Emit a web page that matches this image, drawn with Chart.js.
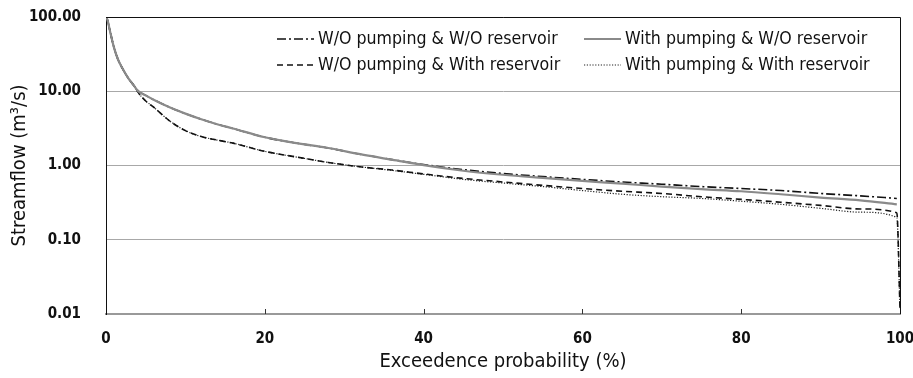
<!DOCTYPE html>
<html><head><meta charset="utf-8">
<script src="https://cdn.jsdelivr.net/npm/chart.js@4/dist/chart.umd.min.js"></script>
<style>html,body{margin:0;padding:0;background:#fff}#wrap{width:913px;height:378px}</style>
</head><body><div id="wrap"><canvas id="c" width="913" height="378"></canvas></div>
<script>
const xTicks = [0, 20, 40, 60, 80, 100];
const yTicks = [0.01, 0.1, 1, 10, 100];
const seriesNames = ["W/O pumping & W/O reservoir", "With pumping & W/O reservoir", "W/O pumping & With reservoir", "With pumping & With reservoir"];
const probUpper = [0, 0.2, 0.5, 1, 1.5, 2, 2.8, 3.5, 4, 5, 6, 8, 10, 12, 14, 16, 20, 24, 28, 32, 36, 40, 45, 50, 55, 60, 65, 70, 75, 80, 85, 90, 95, 99.6];
const woPumpWoRes  = [100, 90, 65, 39, 27, 21, 15, 12, 10.2, 8.8, 7.7, 6.1, 5.0, 4.2, 3.6, 3.15, 2.4, 2.0, 1.72, 1.42, 1.2, 1.03, 0.88, 0.78, 0.71, 0.65, 0.6, 0.56, 0.52, 0.49, 0.46, 0.42, 0.39, 0.36];
const wPumpWoRes   = [100, 90, 65, 39, 27, 21, 15, 12, 10.2, 8.8, 7.7, 6.1, 5.0, 4.2, 3.6, 3.15, 2.4, 2.0, 1.72, 1.42, 1.2, 1.01, 0.85, 0.75, 0.68, 0.62, 0.57, 0.52, 0.48, 0.45, 0.41, 0.37, 0.34, 0.30];
const probLower = [0, 0.2, 0.5, 1, 1.5, 2, 2.8, 3.5, 4, 5, 6, 8, 10, 12, 14, 16, 20, 24, 28, 32, 36, 40, 45, 50, 55, 60, 65, 70, 75, 80, 85, 90, 95, 99.6, 100];
const woPumpWRes   = [100, 90, 65, 39, 27, 21, 15, 12, 9.8, 7.4, 6.1, 4.0, 2.95, 2.45, 2.2, 2.0, 1.55, 1.3, 1.1, 0.96, 0.87, 0.77, 0.67, 0.6, 0.54, 0.49, 0.45, 0.42, 0.38, 0.35, 0.32, 0.29, 0.26, 0.23, 0.012];
const wPumpWRes    = [100, 90, 65, 39, 27, 21, 15, 12, 9.8, 7.4, 6.1, 4.0, 2.95, 2.45, 2.2, 2.0, 1.55, 1.3, 1.1, 0.96, 0.86, 0.76, 0.65, 0.58, 0.52, 0.46, 0.41, 0.38, 0.36, 0.33, 0.30, 0.265, 0.235, 0.20, 0.012];

const FONT = "'DejaVu Sans Condensed', 'Liberation Sans Narrow', 'DejaVu Sans', sans-serif";
const pts = (xs, ys) => xs.map((x, i) => ({x: x, y: ys[i]}));

const styles = [
  {borderColor: '#111', borderWidth: 1.6, borderDash: [9, 3, 2, 3]},
  {borderColor: '#8a8a8a', borderWidth: 2.2, borderDash: []},
  {borderColor: '#111', borderWidth: 1.6, borderDash: [6, 4]},
  {borderColor: '#222', borderWidth: 1.2, borderDash: [1.2, 1.6]}
];
const dataArrs = [pts(probUpper, woPumpWoRes), pts(probUpper, wPumpWoRes), pts(probLower, woPumpWRes), pts(probLower, wPumpWRes)];
const order = [1, 0, 2, 3];

const datasets = seriesNames.map((n, i) => Object.assign({
  label: n, data: dataArrs[i], pointRadius: 0, fill: false, cubicInterpolationMode: 'monotone', order: order[i]
}, styles[i]));

const framePlugin = {
  id: 'frame',
  afterDatasetsDraw(chart) {
    const ctx = chart.ctx, a = chart.chartArea, xs = chart.scales.x;
    ctx.save();
    ctx.strokeStyle = '#111'; ctx.lineWidth = 1;
    ctx.beginPath();
    ctx.moveTo(a.left, a.top + 0.5); ctx.lineTo(a.right + 0.5, a.top + 0.5);
    ctx.lineTo(a.right + 0.5, a.bottom);
    ctx.stroke();
    ctx.strokeStyle = '#333';
    xTicks.forEach(v => {
      if (v === 0 || v === 100) return;
      const px = Math.round(xs.getPixelForValue(v)) + 0.5;
      ctx.beginPath(); ctx.moveTo(px, a.bottom); ctx.lineTo(px, a.bottom - 5); ctx.stroke();
    });
    ctx.restore();
  },
  afterDraw(chart) {
    const ctx = chart.ctx, a = chart.chartArea;
    const cols = [a.left + 171, a.left + 478];
    const rows = [a.top + 22, a.top + 48];
    const layout = [[0, 0], [1, 0], [0, 1], [1, 1]];
    ctx.save();
    ctx.font = '17.6px ' + FONT;
    ctx.fillStyle = '#111';
    ctx.textBaseline = 'middle';
    chart.data.datasets.forEach((ds, i) => {
      const [c, r] = layout[i];
      const x = cols[c], y = rows[r];
      ctx.strokeStyle = ds.borderColor; ctx.lineWidth = ds.borderWidth;
      ctx.setLineDash(ds.borderDash || []);
      ctx.beginPath(); ctx.moveTo(x, y); ctx.lineTo(x + 37, y); ctx.stroke();
      ctx.setLineDash([]);
      ctx.fillText(ds.label, x + 41, y);
    });
    ctx.restore();
  }
};

new Chart(document.getElementById('c'), {
  type: 'line',
  data: {datasets: datasets},
  options: {
    responsive: false, animation: false,
    layout: {padding: {top: 17, right: 13, left: 0, bottom: 0}},
    plugins: {legend: {display: false}, tooltip: {enabled: false}},
    scales: {
      x: {
        type: 'linear', min: 0, max: 100,
        afterBuildTicks: s => { s.ticks = xTicks.map(v => ({value: v})); },
        afterFit: s => { s.height = 64; s.paddingLeft = 0; s.paddingRight = 0; },
        grid: {display: false, drawTicks: false},
        border: {display: true, color: '#999', width: 2},
        ticks: {color: '#111', padding: 16, font: {family: FONT, size: 15, weight: 'bold'}},
        title: {display: true, text: 'Exceedence probability (%)', color: '#111', font: {family: FONT, size: 20}, padding: {top: 2}}
      },
      y: {
        type: 'logarithmic', min: 0.01, max: 100,
        afterBuildTicks: s => { s.ticks = yTicks.map(v => ({value: v})); },
        afterFit: s => { s.width = 106; s.paddingTop = 0; s.paddingBottom = 0; },
        grid: {color: '#a8a8a8', lineWidth: 1, drawTicks: false},
        border: {display: true, color: '#111', width: 1},
        ticks: {color: '#111', padding: 25, font: {family: FONT, size: 15, weight: 'bold'}, callback: v => Number(v).toFixed(2)},
        title: {display: true, text: 'Streamflow (m\u00B3/s)', color: '#111', font: {family: FONT, size: 20}, padding: {top: 8, bottom: 2}}
      }
    }
  },
  plugins: [framePlugin]
});
</script></body></html>
